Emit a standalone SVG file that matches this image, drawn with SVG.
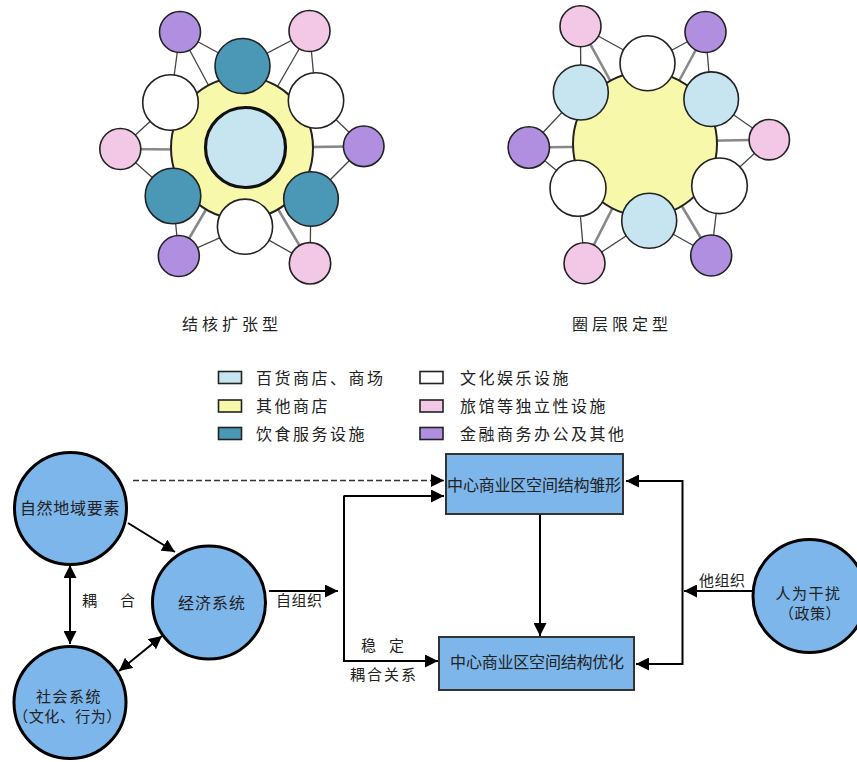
<svg xmlns="http://www.w3.org/2000/svg" width="857" height="762" viewBox="0 0 857 762">
<style>
text{font-family:"Noto Sans CJK SC","Noto Sans",sans-serif;fill:#222;}
.t16{font-size:16px;}
.t15{font-size:15px;}
.lbl{font-size:15px;}
.c{stroke:#222;stroke-width:1.6;}
.yel{fill:#f7f8a9;stroke:#222;stroke-width:2;}
.lb{fill:#c6e5f1;}
.teal{fill:#4a98b6;}
.wh{fill:#ffffff;}
.pk{fill:#f3c7e6;}
.pu{fill:#b18fe0;}
.nl{stroke:#444;stroke-width:1.3;}
.dl{stroke:#888;stroke-width:2.6;}
.node{fill:#7db6ea;stroke:#000;stroke-width:3;}
.box{fill:#7db6ea;stroke:#333;stroke-width:2;}
.ar{stroke:#000;stroke-width:2;fill:none;}
.dash{stroke:#333;stroke-width:1.6;stroke-dasharray:6 3;fill:none;}
</style>
<defs>
<marker id="ah" viewBox="0 0 13 13" refX="13" refY="6.5" markerWidth="13" markerHeight="13" markerUnits="userSpaceOnUse" orient="auto-start-reverse">
<path d="M0,0 L13,6.5 L0,13 z" fill="#000"/>
</marker>
</defs>

<!-- Left cluster: 结核扩张型 -->
<g id="cluster-left">
<g id="cl-lines">
<line class="nl" x1="180" y1="32" x2="170.5" y2="102.5"/>
<line class="nl" x1="180" y1="32" x2="242.5" y2="66"/>
<line class="nl" x1="180" y1="32" x2="242" y2="148"/>
<line class="nl" x1="309.5" y1="31" x2="242.5" y2="66"/>
<line class="nl" x1="309.5" y1="31" x2="316" y2="100.5"/>
<line class="nl" x1="309.5" y1="31" x2="242" y2="148"/>
<line class="nl" x1="120.3" y1="149" x2="170.5" y2="102.5"/>
<line class="nl" x1="120.3" y1="149" x2="173" y2="196"/>
<line class="dl" x1="120.3" y1="149" x2="242" y2="150"/>
<line class="nl" x1="363.7" y1="146.3" x2="316" y2="100.5"/>
<line class="nl" x1="363.7" y1="146.3" x2="311" y2="199"/>
<line class="dl" x1="363.7" y1="146.3" x2="242" y2="148"/>
<line class="nl" x1="178.8" y1="256" x2="173" y2="196"/>
<line class="nl" x1="178.8" y1="256" x2="245" y2="226.7"/>
<line class="dl" x1="178.8" y1="256" x2="242" y2="148"/>
<line class="nl" x1="310" y1="263.3" x2="245" y2="226.7"/>
<line class="nl" x1="310" y1="263.3" x2="311" y2="199"/>
<line class="dl" x1="310" y1="263.3" x2="242" y2="148"/>
</g>
<circle id="cl-other" class="yel" cx="242" cy="148" r="71"/>
<circle id="cl-dept" class="lb" cx="245.5" cy="147.5" r="40" stroke="#111" stroke-width="3.2"/>
<g id="cl-ring">
<circle class="c teal" cx="242.5" cy="66" r="27.5"/>
<circle class="c wh" cx="170.5" cy="102.5" r="27.8"/>
<circle class="c wh" cx="316" cy="100.5" r="27.7"/>
<circle class="c teal" cx="173" cy="196" r="27.8"/>
<circle class="c teal" cx="311" cy="199" r="27.3"/>
<circle class="c wh" cx="245" cy="226.7" r="27.6"/>
</g>
<g id="cl-outer">
<circle class="c pu" cx="180" cy="32" r="20.5"/>
<circle class="c pk" cx="309.5" cy="31" r="20.5"/>
<circle class="c pk" cx="120.3" cy="149" r="20.5"/>
<circle class="c pu" cx="363.7" cy="146.3" r="20.3"/>
<circle class="c pu" cx="178.8" cy="256" r="20.5"/>
<circle class="c pk" cx="310" cy="263.3" r="20.7"/>
</g>
<text class="t16" x="182" y="330" letter-spacing="4">结核扩张型</text>
</g>

<!-- Right cluster: 圈层限定型 -->
<g id="cluster-right">
<g id="cr-lines">
<line class="nl" x1="580.5" y1="26.3" x2="647.5" y2="63.3"/>
<line class="nl" x1="580.5" y1="26.3" x2="580.8" y2="92.5"/>
<line class="dl" x1="580.5" y1="26.3" x2="645" y2="144"/>
<line class="nl" x1="705.5" y1="32" x2="647.5" y2="63.3"/>
<line class="nl" x1="705.5" y1="32" x2="711.2" y2="99.2"/>
<line class="dl" x1="705.5" y1="32" x2="645" y2="144"/>
<line class="nl" x1="528.8" y1="147.5" x2="580.8" y2="92.5"/>
<line class="nl" x1="528.8" y1="147.5" x2="578" y2="188.3"/>
<line class="dl" x1="528.8" y1="147.5" x2="645" y2="146"/>
<line class="nl" x1="769.3" y1="139.7" x2="711.2" y2="99.2"/>
<line class="nl" x1="769.3" y1="139.7" x2="719.5" y2="185.8"/>
<line class="dl" x1="769.3" y1="139.7" x2="645" y2="142"/>
<line class="nl" x1="584.5" y1="263.3" x2="578" y2="188.3"/>
<line class="nl" x1="584.5" y1="263.3" x2="649.2" y2="220.8"/>
<line class="dl" x1="584.5" y1="263.3" x2="645" y2="144"/>
<line class="nl" x1="711.2" y1="255.5" x2="719.5" y2="185.8"/>
<line class="nl" x1="711.2" y1="255.5" x2="649.2" y2="220.8"/>
<line class="dl" x1="711.2" y1="255.5" x2="645" y2="144"/>
</g>
<circle id="cr-other" class="yel" cx="645" cy="144" r="72"/>
<g id="cr-ring">
<circle class="c wh" cx="647.5" cy="63.3" r="27.5"/>
<circle class="c lb" cx="580.8" cy="92.5" r="27.5"/>
<circle class="c lb" cx="711.2" cy="99.2" r="27.3"/>
<circle class="c wh" cx="578" cy="188.3" r="28"/>
<circle class="c wh" cx="719.5" cy="185.8" r="27.8"/>
<circle class="c lb" cx="649.2" cy="220.8" r="27.5"/>
</g>
<g id="cr-outer">
<circle class="c pk" cx="580.5" cy="26.3" r="20.5"/>
<circle class="c pu" cx="705.5" cy="32" r="20.5"/>
<circle class="c pu" cx="528.8" cy="147.5" r="20.7"/>
<circle class="c pk" cx="769.3" cy="139.7" r="20.2"/>
<circle class="c pk" cx="584.5" cy="263.3" r="20.5"/>
<circle class="c pu" cx="711.2" cy="255.5" r="20.5"/>
</g>
<text class="t16" x="572" y="330" letter-spacing="4">圈层限定型</text>
</g>

<!-- Legend -->
<g id="legend">
<rect class="c lb" x="218.5" y="371.5" width="23" height="12"/>
<text class="t16" x="256" y="383.5" letter-spacing="2.5">百货商店、商场</text>
<rect class="c" x="218.5" y="400" width="23" height="12" fill="#f7f8a9"/>
<text class="t16" x="256" y="412" letter-spacing="2.5">其他商店</text>
<rect class="c teal" x="218.5" y="427.5" width="23" height="12"/>
<text class="t16" x="256" y="439.5" letter-spacing="2.5">饮食服务设施</text>
<rect class="c wh" x="420" y="371.5" width="23" height="12"/>
<text class="t16" x="460" y="383.5" letter-spacing="2.5">文化娱乐设施</text>
<rect class="c pk" x="420" y="400" width="23" height="12"/>
<text class="t16" x="460" y="412" letter-spacing="2.5">旅馆等独立性设施</text>
<rect class="c pu" x="420" y="427.5" width="23" height="12"/>
<text class="t16" x="460" y="439.5" letter-spacing="2.5">金融商务办公及其他</text>
</g>

<!-- Connectors -->
<g id="connectors">
<line class="dash" x1="133" y1="480.5" x2="444" y2="480.5" marker-end="url(#ah)"/>
<line class="ar" x1="128" y1="523" x2="175" y2="552" marker-end="url(#ah)"/>
<line class="ar" x1="70" y1="565" x2="70" y2="644" marker-start="url(#ah)" marker-end="url(#ah)"/>
<line class="ar" x1="119" y1="671" x2="162" y2="636" marker-start="url(#ah)" marker-end="url(#ah)"/>
<line class="ar" x1="269" y1="591" x2="338" y2="591" marker-end="url(#ah)"/>
<path class="ar" d="M343.5,496 H444" marker-end="url(#ah)"/>
<path class="ar" d="M344,496 V661 H438" marker-end="url(#ah)"/>
<line class="ar" x1="540" y1="514" x2="540" y2="636" marker-end="url(#ah)"/>
<path class="ar" d="M682.5,481 H626" marker-end="url(#ah)"/>
<path class="ar" d="M682.5,480 V664 H636" marker-end="url(#ah)"/>
<line class="ar" x1="752" y1="591" x2="684" y2="591" marker-end="url(#ah)"/>
<text class="lbl" x="276" y="606" letter-spacing="0.5">自组织</text>
<text class="lbl" x="361" y="651">稳</text>
<text class="lbl" x="389" y="651">定</text>
<text class="lbl" x="350" y="679.5" letter-spacing="2">耦合关系</text>
<text class="lbl" x="699" y="586" letter-spacing="0.5">他组织</text>
<text class="lbl" x="82" y="606">耦</text>
<text class="lbl" x="120" y="606">合</text>
</g>

<!-- Nodes -->
<g id="node-natural">
<circle class="node" cx="70.5" cy="508.5" r="56"/>
<text class="t16" x="70" y="514" text-anchor="middle" letter-spacing="0.7">自然地域要素</text>
</g>
<g id="node-economic">
<circle class="node" cx="209" cy="602.5" r="56.5"/>
<text class="t16" x="212" y="608.5" text-anchor="middle" letter-spacing="1">经济系统</text>
</g>
<g id="node-social">
<circle class="node" cx="70" cy="702.5" r="56"/>
<text class="t15" x="69" y="702" text-anchor="middle" letter-spacing="1.5">社会系统</text>
<text class="t15" x="67.5" y="722" text-anchor="middle" letter-spacing="0.5">（文化、行为）</text>
</g>
<g id="node-embryo">
<rect class="box" x="446" y="454" width="177" height="60"/>
<text class="t16" x="534" y="491" text-anchor="middle" letter-spacing="-0.2">中心商业区空间结构雏形</text>
</g>
<g id="node-optimize">
<rect class="box" x="439" y="637" width="195" height="53"/>
<text class="t16" x="537" y="668" text-anchor="middle" letter-spacing="-0.2">中心商业区空间结构优化</text>
</g>
<g id="node-human">
<circle class="node" cx="809.5" cy="596" r="56.5"/>
<text class="t15" x="808.5" y="599" text-anchor="middle" letter-spacing="1.5">人为干扰</text>
<text class="t15" x="810" y="619" text-anchor="middle" letter-spacing="0.5">（政策）</text>
</g>
</svg>
